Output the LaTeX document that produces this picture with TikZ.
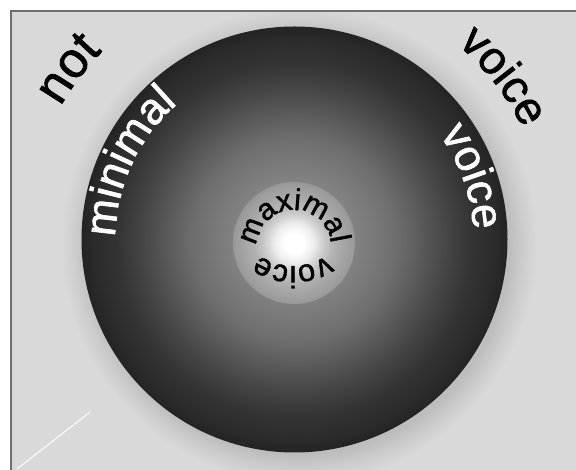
\documentclass[tikz,border=0pt]{standalone}
\usepackage{fontspec}
\setmainfont{Liberation Sans}
\newfontface\heavy[FakeBold=1.4]{Liberation Sans}
\usetikzlibrary{decorations.text}
\definecolor{bg}{gray}{0.85}
\definecolor{framegray}{gray}{0.43}
\definecolor{shA}{gray}{0.74}
\definecolor{shB}{gray}{0.80}
\definecolor{dA}{gray}{0.53}
\definecolor{dB}{gray}{0.51}
\definecolor{dC}{gray}{0.48}
\definecolor{dD}{gray}{0.43}
\definecolor{dE}{gray}{0.35}
\definecolor{dF}{gray}{0.27}
\definecolor{dG}{gray}{0.20}
\definecolor{dH}{gray}{0.17}
\definecolor{dI}{gray}{0.14}
\definecolor{rA}{gray}{0.93}
\definecolor{rB}{gray}{0.80}
\definecolor{rC}{gray}{0.70}
\definecolor{rD}{gray}{0.65}
\definecolor{rE}{gray}{0.61}
\definecolor{rF}{gray}{0.59}
\pgfdeclareradialshading{shadowshade}{\pgfpoint{0bp}{0bp}}{color(0bp)=(shA); color(22bp)=(shA); color(23.5bp)=(shB); color(25bp)=(bg); color(50bp)=(bg)}
\pgfdeclareradialshading{discshade}{\pgfpoint{0bp}{0bp}}{color(0bp)=(dA); color(7bp)=(dB); color(9bp)=(dC); color(12bp)=(dD); color(15bp)=(dE); color(18bp)=(dF); color(21bp)=(dG); color(23.5bp)=(dH); color(25bp)=(dI); color(50bp)=(dI)}
\pgfdeclareradialshading{ringshade}{\pgfpoint{0bp}{0bp}}{color(0bp)=(white); color(4bp)=(white); color(8bp)=(rA); color(12bp)=(rB); color(16bp)=(rC); color(20bp)=(rD); color(24bp)=(rE); color(25bp)=(rF); color(50bp)=(rF)}
\newcommand\bigf{\heavy\fontsize{50}{50}\selectfont}
\newcommand\bigv{\heavy\fontsize{46}{46}\selectfont}
\newcommand\midf{\heavy\fontsize{44}{44}\selectfont}
\newcommand\smallf{\heavy\fontsize{30}{30}\selectfont}
\newcommand\smallg{\heavy\fontsize{31}{31}\selectfont}
\tikzset{
  arctext/.style 2 args={decorate, decoration={text along path, text={|#1|#2}, text align=center}},
  blacktext/.style={decoration={text color=black}},
  whitetext/.style={decoration={text color=white}}
}
\begin{document}
\begin{tikzpicture}[x=1pt,y=1pt]
\useasboundingbox (0,0) rectangle (576,470);
\clip (0,0) rectangle (576,470);
\fill[white] (0,0) rectangle (576,470);
\fill[bg] (11,459) rectangle (600,-20);
\coordinate (C) at (294.5,230.5);
\coordinate (R) at (294,227);
\coordinate (M) at (294,223);
\coordinate (V) at (293,264);
\coordinate (S) at (299,225);
\coordinate (L1) at (17,1);
\coordinate (L2) at (90,58);
% shadow, clipped to the frame
\begin{scope}
\clip (11,459) rectangle (600,-20);
\shade[shading=shadowshade] (S) circle[radius=238];
\end{scope}
\draw[draw=framegray, line width=2] (11,459) rectangle (600,-20);
% disc and inner ring
\shade[shading=discshade] (C) circle[radius=213];
\shade[shading=ringshade] (R) circle[radius=61];
% thin white line
\draw[white!95!gray, line width=1.2] (L1) -- (L2);
% texts
\path[arctext={\bigf}{not}, blacktext] (C) ++(181:269) arc[start angle=181, end angle=105, radius=269];
\path[arctext={\bigv}{voice}, blacktext] (C) ++(72:254) arc[start angle=72, end angle=4, radius=254];
\path[arctext={\midf}{minimal}, whitetext] (C) ++(215:179) arc[start angle=215, end angle=95, radius=179];
\path[arctext={\midf}{voice}, whitetext] (C) ++(80:179) arc[start angle=80, end angle=-41, radius=179];
\path[arctext={\smallf}{maximal}, blacktext] (M) ++(200:37) arc[start angle=200, end angle=-16, radius=37];
\path[arctext={\smallg}{voice}, blacktext] (V) ++(-20:60) arc[start angle=-20, end angle=-160, radius=60];
\end{tikzpicture}
\end{document}
